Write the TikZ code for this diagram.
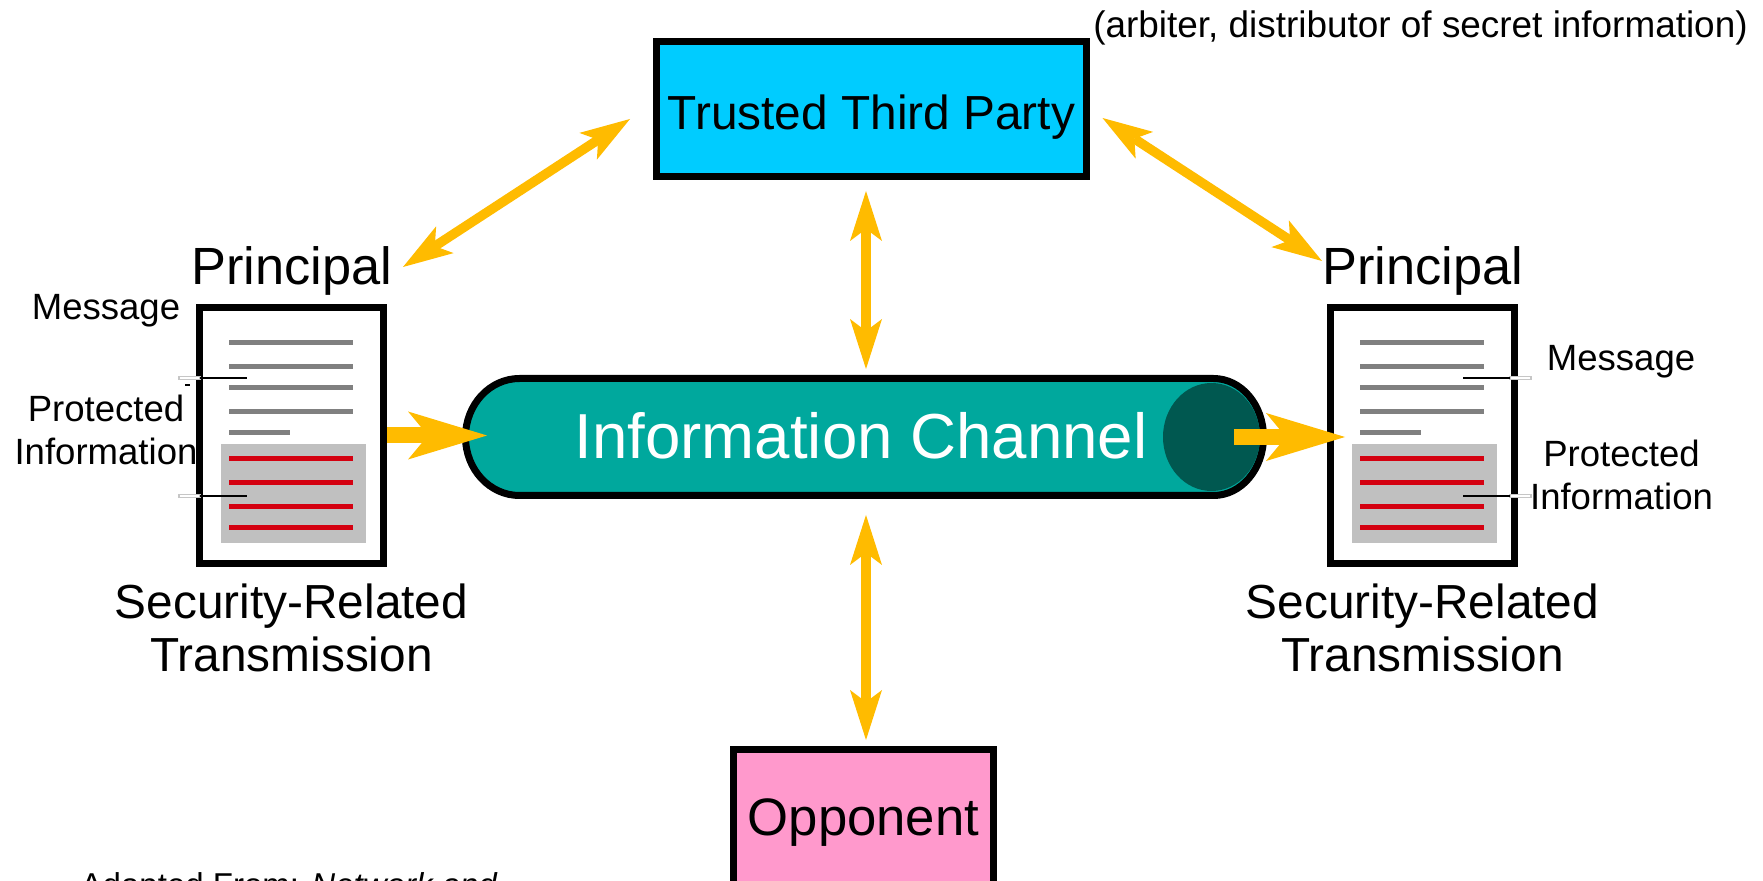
\documentclass[tikz,border=0pt]{standalone}
\usepackage{fontspec}
\setmainfont{Liberation Sans}
\usetikzlibrary{arrows.meta}

\definecolor{ttpblue}{RGB}{0,204,255}
\definecolor{chanteal}{RGB}{0,168,157}
\definecolor{chandark}{RGB}{0,88,80}
\definecolor{opppink}{RGB}{255,153,204}
\definecolor{arrowgold}{RGB}{255,187,0}
\definecolor{msggray}{RGB}{128,128,128}
\definecolor{protgray}{RGB}{192,192,192}
\definecolor{protred}{RGB}{212,0,16}

\tikzset{
	goldtip/.tip={Stealth[length=0.5cm, width=0.32cm, inset=0.12cm, line width=0pt]},
	fattip/.tip={Stealth[length=0.79cm, width=0.48cm, inset=0.2cm, line width=0pt]},
	thinarrow/.style={draw=arrowgold, line width=0.095cm, goldtip-goldtip},
	fatarrow/.style={draw=arrowgold, line width=0.16cm, -fattip},
	ttpbox/.style={draw, line width=0.07cm, fill=ttpblue, minimum width=4.30cm, minimum height=1.35cm,
		inner sep=0pt, text height=0.42cm, text depth=0pt, font=\fontsize{13.6}{16}\selectfont},
	oppbox/.style={draw, line width=0.07cm, fill=opppink, minimum width=2.60cm, minimum height=1.40cm,
		inner sep=0pt, text height=0.38cm, text depth=0.08cm, font=\fontsize{15}{18}\selectfont},
	docbox/.style={draw, line width=0.07cm, fill=white, minimum width=1.84cm, minimum height=2.56cm, inner sep=0pt},
	chantext/.style={text=white, inner sep=0pt, font=\fontsize{18.1}{21}\selectfont},
	bigtext/.style={inner sep=0pt, font=\fontsize{14.9}{18}\selectfont},
	captext/.style={inner sep=0pt, align=center, font=\fontsize{13.6}{15.1}\selectfont},
	smalltext/.style={inner sep=0pt, font=\fontsize{10.4}{12}\selectfont},
	srctext/.style={inner sep=0pt, font=\fontsize{9.4}{11}\selectfont},
	msgline/.style={msggray, line width=0.05cm},
	protline/.style={protred, line width=0.05cm},
	leader/.style={black, line width=0.025cm},
	leadtail/.style={draw=gray!45, line width=0.3pt, fill=white}
}

\begin{document}
\begin{tikzpicture}
	\useasboundingbox (0,0) rectangle (17.63,8.80);
	
	%trusted third party and opponent
	\node[ttpbox] (ttp) at (8.715,7.71) {Trusted Third Party};
	\node[smalltext, anchor=base, font=\fontsize{10.5}{12}\selectfont] (arb) at (14.205,8.426) {(arbiter, distributor of secret information)};
	\node[oppbox] (opp) at (8.635,0.60) {Opponent};
	
	%information channel
	\filldraw[fill=chanteal, line width=0.07cm] (5.195,5.015) -- (12.135,5.015)
		arc[start angle=90, end angle=-90, x radius=0.50, y radius=0.585] -- (5.195,3.845)
		arc[start angle=270, end angle=90, x radius=0.54, y radius=0.585] -- cycle;
	\fill[chandark] (12.115,4.43) ellipse [x radius=0.485, y radius=0.54];
	\node[chantext, anchor=base] (chan) at (8.61,4.21) {Information Channel};
	
	%principals and their documents
	\foreach \side/\x in {l/2.915, r/14.225}{
		\node[docbox] (\side doc) at (\x,4.445) {};
		\node[bigtext, anchor=base] (\side prin) at (\x,5.95) {Principal};
		\node[captext] (\side sec) at (\x,2.52) {Security-Related\\Transmission};
		\begin{scope}[shift={(\x,4.445)}]
			\fill[protgray] (-0.705,-0.085) rectangle (0.745,-1.075);
			\foreach \y in {0.925, 0.685, 0.475, 0.235}{
				\draw[msgline] (-0.625,\y)--(0.615,\y);
			}
			\draw[msgline] (-0.625,0.025)--(-0.015,0.025);
			\foreach \y in {-0.235, -0.475, -0.715, -0.925}{
				\draw[protline] (-0.625,\y)--(0.615,\y);
			}
		\end{scope}
	}
	
	%labels
	\node[smalltext, anchor=base] (lmsg) at (1.06,5.60) {Message};
	\node[smalltext, align=center] (lprot) at (1.06,4.50) {Protected\\Information};
	\node[smalltext, anchor=base] (rmsg) at (16.21,5.09) {Message};
	\node[smalltext, align=center] (rprot) at (16.215,4.05) {Protected\\Information};
	
	%leader lines
	\draw[leadtail] (1.79,5.005) rectangle (2.00,5.035);
	\draw[leadtail] (1.79,3.825) rectangle (2.00,3.855);
	\draw[leader] (2.00,5.02)--(2.47,5.02);
	\draw[leader] (2.00,3.84)--(2.47,3.84);
	\draw[leader] (1.85,4.95)--(1.90,4.95);
	\draw[leadtail] (15.10,5.005) rectangle (15.31,5.035);
	\draw[leadtail] (15.10,3.825) rectangle (15.31,3.855);
	\draw[leader] (14.63,5.02)--(15.10,5.02);
	\draw[leader] (14.63,3.84)--(15.10,3.84);
	
	%arrows
	\coordinate (lprinE) at (4.03,6.13);
	\coordinate (ttpW) at (6.30,7.61);
	\coordinate (ttpE) at (11.025,7.62);
	\coordinate (rprinW) at (13.22,6.19);
	\coordinate (ttpS) at (8.66,6.89);
	\coordinate (chanN) at (8.66,5.11);
	\coordinate (chanS) at (8.66,3.65);
	\coordinate (oppN) at (8.66,1.40);
	\coordinate (chanW) at (4.87,4.445);
	\coordinate (chanE) at (12.34,4.43);
	\coordinate (rdocW) at (13.45,4.43);
	
	\draw[thinarrow] (lprinE) -- (ttpW);
	\draw[thinarrow] (ttpE) -- (rprinW);
	\draw[thinarrow] (ttpS) -- (chanN);
	\draw[thinarrow] (chanS) -- (oppN);
	\draw[fatarrow] (ldoc.east) -- (chanW);
	\draw[fatarrow] (chanE) -- (rdocW);
	
	\node[srctext, anchor=base west] (src) at (0.80,-0.16) {Adapted From: \textit{Network and}};
\end{tikzpicture}
\end{document}
